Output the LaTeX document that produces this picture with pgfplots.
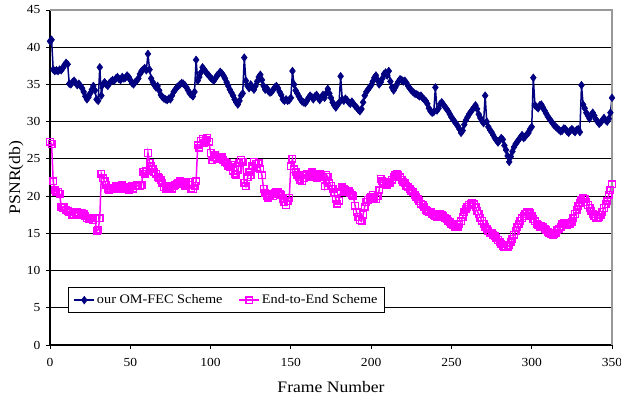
\documentclass[border=0pt]{standalone}
\usepackage{pgfplots}
\pgfplotsset{compat=1.18}
\usepackage{pgfplotstable}
\usepackage{fontspec}
\setmainfont{Liberation Serif}[FakeStretch=1.1]
\definecolor{navyc}{RGB}{0,0,128}
\definecolor{magc}{RGB}{255,0,255}
\pgfplotstableread{
f a b
0 40.8 27.3
1 41.0 27.0
2 37.0 22.0
3 36.8 20.8
4 36.9 20.5
5 36.8 20.6
6 37.0 20.3
7 36.9 18.6
8 37.2 18.4
9 37.6 18.5
10 37.9 18.2
11 37.7 18.0
12 35.1 17.8
13 35.0 17.9
14 35.3 17.5
15 35.5 17.4
16 35.2 17.7
17 34.9 17.8
18 35.1 17.6
19 34.8 17.5
20 34.5 17.7
21 34.0 17.6
22 33.4 17.3
23 33.0 17.0
24 33.3 16.9
25 33.8 17.1
26 34.3 17.0
27 34.8 16.8
28 34.2 17.0
29 33.0 15.3
30 32.8 15.5
31 37.3 17.0
32 33.5 23.0
33 35.0 22.4
34 35.3 22.0
35 35.0 21.5
36 34.8 21.0
37 35.2 20.8
38 35.4 20.9
39 35.6 21.1
40 35.5 21.0
41 35.8 21.3
42 36.0 21.2
43 35.7 21.0
44 35.6 21.4
45 36.0 21.5
46 35.8 21.2
47 35.9 20.9
48 36.2 21.0
49 36.0 20.8
50 35.6 21.1
51 35.2 21.3
52 35.0 21.0
53 35.3 21.4
54 35.5 21.5
55 35.8 21.3
56 36.4 21.4
57 36.8 21.5
58 37.0 23.3
59 37.2 23.0
60 36.9 23.4
61 39.1 25.8
62 37.0 24.5
63 35.8 24.0
64 35.3 23.6
65 34.9 23.2
66 34.6 23.0
67 34.8 22.6
68 34.2 22.4
69 33.6 22.1
70 33.3 21.8
71 33.1 21.2
72 33.0 21.0
73 32.9 21.4
74 33.1 21.2
75 33.0 20.9
76 33.5 21.0
77 34.0 21.3
78 34.3 21.5
79 34.6 21.6
80 34.8 21.8
81 35.0 22.0
82 35.2 21.9
83 35.1 21.6
84 34.9 21.4
85 34.6 21.7
86 34.2 21.9
87 33.8 21.5
88 33.6 21.0
89 33.4 20.9
90 34.0 21.4
91 38.3 22.0
92 35.5 26.8
93 36.0 26.5
94 36.6 27.4
95 37.3 27.7
96 37.0 27.2
97 36.7 27.6
98 36.4 27.8
99 36.2 27.3
100 35.9 25.8
101 35.7 24.8
102 35.5 25.2
103 35.8 25.5
104 36.2 25.0
105 36.4 25.3
106 36.7 25.0
107 36.5 25.2
108 36.2 24.9
109 35.8 24.6
110 35.3 24.4
111 34.8 24.1
112 34.3 23.9
113 33.9 24.2
114 33.5 23.4
115 33.0 23.0
116 32.6 22.9
117 32.3 23.5
118 32.8 24.5
119 33.5 24.9
120 33.8 24.6
121 38.6 21.8
122 35.5 21.3
123 34.8 22.5
124 34.5 23.2
125 35.0 22.8
126 34.6 24.0
127 34.3 24.6
128 34.8 24.3
129 35.4 23.8
130 36.0 24.4
131 36.3 23.6
132 35.6 22.8
133 34.8 21.0
134 34.3 20.4
135 34.5 20.0
136 34.1 19.8
137 33.9 20.1
138 34.0 20.3
139 34.3 20.0
140 34.6 20.4
141 34.8 20.6
142 34.5 20.5
143 34.0 20.3
144 33.6 20.1
145 33.0 19.6
146 32.8 19.2
147 33.0 18.8
148 32.8 19.3
149 32.9 19.8
150 33.2 24.0
151 36.8 25.0
152 35.0 23.6
153 34.2 23.2
154 33.8 22.8
155 33.4 22.5
156 33.0 22.2
157 32.7 22.0
158 32.6 22.4
159 32.5 22.8
160 32.8 23.0
161 33.2 22.6
162 33.5 22.8
163 33.3 23.2
164 33.0 23.0
165 33.4 22.6
166 33.6 22.4
167 33.2 22.8
168 32.9 23.0
169 33.3 22.7
170 33.6 22.5
171 33.2 21.3
172 33.8 22.9
173 34.4 22.6
174 33.8 21.8
175 33.2 21.4
176 32.6 21.0
177 32.2 20.4
178 31.9 19.6
179 32.3 19.0
180 32.5 19.4
181 36.1 20.6
182 33.0 21.2
183 32.8 21.0
184 33.1 20.8
185 32.9 20.5
186 32.6 20.7
187 32.4 20.4
188 32.7 20.2
189 32.4 20.0
190 32.1 18.7
191 31.9 17.8
192 31.6 17.2
193 31.4 16.8
194 31.7 16.6
195 32.6 17.5
196 33.5 18.6
197 34.0 19.2
198 34.3 19.5
199 34.6 19.7
200 34.9 19.9
201 35.4 20.2
202 35.9 19.8
203 36.2 19.6
204 35.6 20.0
205 35.0 20.8
206 35.3 22.3
207 35.8 22.0
208 36.4 21.8
209 36.6 21.6
210 36.2 21.5
211 36.8 21.9
212 35.4 21.7
213 34.6 22.2
214 34.2 22.6
215 34.6 22.9
216 35.0 23.0
217 35.4 22.8
218 35.7 22.5
219 35.6 22.2
220 35.4 21.9
221 35.5 21.7
222 35.2 21.4
223 34.8 21.2
224 34.5 20.9
225 34.2 20.7
226 34.0 20.5
227 33.8 20.2
228 33.7 19.9
229 33.6 19.6
230 33.4 19.3
231 33.5 19.0
232 33.2 18.8
233 33.0 18.5
234 32.8 18.2
235 32.4 18.0
236 31.8 17.9
237 31.4 17.8
238 31.2 17.6
239 31.3 17.4
240 34.6 17.3
241 31.5 17.2
242 31.8 17.4
243 32.4 17.6
244 32.6 17.5
245 32.3 17.3
246 32.0 17.1
247 31.7 16.9
248 31.4 16.7
249 31.0 16.5
250 30.6 16.3
251 30.3 16.1
252 30.0 15.9
253 29.7 15.8
254 29.4 15.9
255 29.0 16.2
256 28.5 16.6
257 28.8 17.2
258 29.6 17.8
259 30.2 18.3
260 30.6 18.6
261 31.0 18.8
262 31.3 19.0
263 31.6 19.1
264 31.9 18.9
265 32.2 18.5
266 31.7 18.0
267 31.0 17.6
268 30.5 17.1
269 30.1 16.7
270 29.8 16.3
271 33.5 15.9
272 30.0 15.6
273 29.3 15.3
274 28.9 15.1
275 28.6 15.0
276 28.2 14.8
277 27.8 14.6
278 27.5 14.4
279 27.2 14.1
280 27.5 13.8
281 27.8 13.5
282 27.6 13.3
283 26.8 13.2
284 26.2 13.3
285 25.4 13.2
286 24.6 13.4
287 25.3 13.8
288 26.0 14.3
289 26.6 14.8
290 27.0 15.3
291 27.3 15.8
292 27.6 16.3
293 27.9 16.7
294 28.2 17.0
295 27.8 17.3
296 28.0 17.6
297 28.3 17.8
298 28.5 17.9
299 29.0 17.7
300 29.3 17.3
301 35.9 16.9
302 32.2 16.6
303 32.0 16.3
304 31.8 16.1
305 32.2 15.9
306 32.3 16.0
307 31.9 15.8
308 31.5 15.6
309 31.1 15.4
310 30.7 15.2
311 30.4 15.0
312 30.1 14.9
313 29.8 14.8
314 29.5 14.9
315 29.3 15.1
316 29.1 15.4
317 28.9 15.6
318 28.7 15.9
319 28.8 16.2
320 29.1 16.4
321 29.0 16.3
322 28.7 16.1
323 28.5 16.4
324 28.8 16.2
325 29.0 16.5
326 28.8 17.0
327 28.6 17.6
328 28.9 18.2
329 29.0 18.7
330 28.6 19.1
331 34.9 19.5
332 32.3 19.8
333 31.8 19.6
334 31.2 19.2
335 30.8 18.8
336 30.4 18.4
337 30.9 18.0
338 31.2 17.6
339 30.8 17.3
340 30.3 17.1
341 30.0 17.0
342 29.7 17.2
343 29.9 17.5
344 30.2 17.9
345 30.5 18.4
346 30.2 18.9
347 30.0 19.4
348 30.4 20.2
349 31.2 20.8
350 33.2 21.6
}\data
\begin{document}
\begin{tikzpicture}
\begin{axis}[name=ax, scale only axis, width=562pt, height=335pt,
  xmin=0, xmax=350, ymin=0, ymax=45,
  xtick={0,50,...,350}, ytick={0,5,...,45},
  axis x line*=bottom, axis y line*=left,
  axis line style={black, line width=1.2pt, -},
  tick style={black, line width=0.9pt},
  major tick length=4pt, tick align=outside,
  ymajorgrids, grid style={black, line width=0.9pt},
  clip=false,
  /pgf/number format/assume math mode=true,
  ticklabel style={font=\fontsize{12.3}{14}\selectfont},
  xticklabel style={yshift=-6pt},
  yticklabel style={xshift=-2pt},
  xlabel={Frame Number}, ylabel={PSNR(db)},
  label style={font=\fontsize{16}{18}\selectfont},
  xlabel style={at={(axis description cs:0.5,-0.125)}, anchor=center},
  ylabel style={at={(axis description cs:-0.06,0.5)}, anchor=center, rotate=0},
  legend columns=2,
  legend style={at={(axis description cs:0.032,0.0955)}, anchor=south west,
    draw=black, line width=1.2pt, fill=white, font=\fontsize{13}{15}\selectfont,
    inner xsep=5pt, inner ysep=5pt,
    /tikz/every even column/.append style={column sep=14pt}},
  legend image code/.code={\draw[mark repeat=2,mark phase=2] plot coordinates {(0cm,0cm) (0.35cm,0cm) (0.7cm,0cm)};},
]
\addplot[navyc, line width=1.5pt, mark=diamond*, mark size=3.8pt, mark options={fill=navyc, line width=0.6pt}] table[x=f, y=a] {\data};
\addlegendentry{our OM-FEC Scheme}
\addplot[magc, line width=1.5pt, mark=square, mark size=3.3pt, mark options={fill=white, line width=1.4pt}] table[x=f, y=b] {\data};
\addlegendentry{End-to-End Scheme}
\draw[gray!80, line width=1.2pt] (rel axis cs:0,1) -- (rel axis cs:1,1) -- (rel axis cs:1,0);
\end{axis}
\pgfresetboundingbox
\path[use as bounding box] ([shift={(-50pt,-52pt)}]ax.south west) rectangle ([shift={(9pt,10pt)}]ax.north east);
\end{tikzpicture}
\end{document}
